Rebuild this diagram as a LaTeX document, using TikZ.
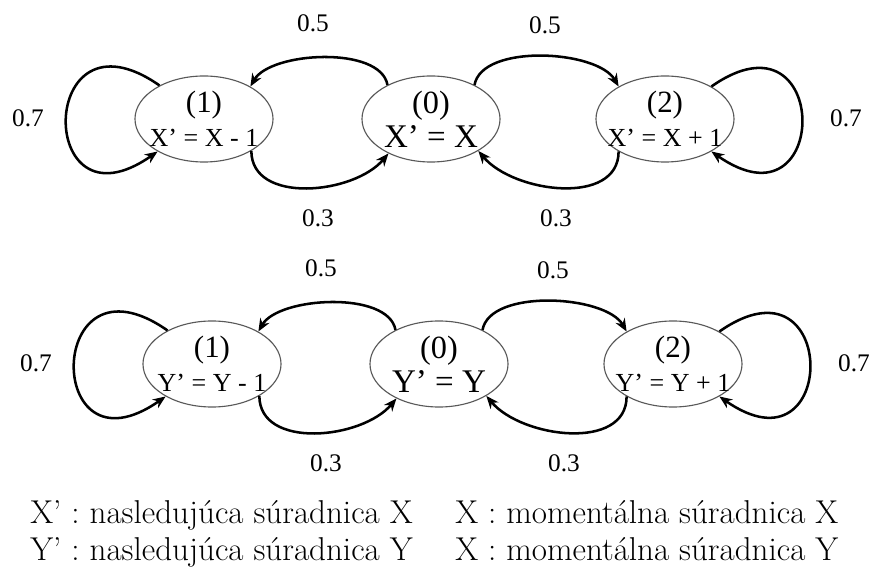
\documentclass[tikz,border=0pt]{standalone}
\usepackage{fontspec}
\newfontfamily\tms{Liberation Serif}[Ligatures=TeX]
\usetikzlibrary{arrows.meta,shapes.geometric}
\tikzset{
  st/.style={ellipse, draw=black!65, line width=0.8pt, minimum width=3.45cm, minimum height=2.15cm, inner sep=0pt},
  stt/.style={align=center, inner sep=0pt, font=\tms\fontsize{18.5}{24}\selectfont},
  arr/.style={-{Stealth[length=3.2mm, width=2.6mm]}, line width=1.8pt},
  lbl/.style={font=\tms\fontsize{18}{20}\selectfont, inner sep=0pt},
  leg/.style={font=\fontsize{23.5}{26}\selectfont, inner sep=0pt, anchor=base west},
}

\begin{document}
\begin{tikzpicture}[x=0.025cm, y=0.025cm]
  \useasboundingbox (0,0) rectangle (871,-570);
  % one row for X, one for Y
  \foreach \ax/\sx/\sy in {X/0/0, Y/8/-245} {
    \begin{scope}[shift={(\sx,\sy)}]
      \node[st, label={[stt]center:{{\fontsize{22}{24}\selectfont(1)}\\\ax' = \ax{} - 1}}] (s1\ax) at (204,-119) {};
      \node[st, label={[stt]center:{{\fontsize{23}{24}\selectfont(0)}\\{\fontsize{23.5}{24}\selectfont\ax' = \ax}}}] (s0\ax) at (431,-119) {};
      \node[st, label={[stt]center:{{\fontsize{22}{24}\selectfont(2)}\\\ax' = \ax{} + 1}}] (s2\ax) at (665,-119) {};
      \draw[arr] (s0\ax.142) to[out=100, in=60, looseness=0.75] (s1\ax.35);
      \draw[arr] (s0\ax.38) to[out=80, in=120, looseness=0.75] (s2\ax.145);
      \draw[arr] (s1\ax.-34) to[out=-90, in=-130] (s0\ax.-141);
      \draw[arr] (s2\ax.-145) to[out=-90, in=-50] (s0\ax.-34);
      \draw[arr] (s1\ax.143) to[out=145, in=215, looseness=5.8] (s1\ax.-145);
      \draw[arr] (s2\ax.35) to[out=35, in=-35, looseness=5.8] (s2\ax.-35);
      \node[lbl] (p01\ax) at (313,-23) {0.5};
      \node[lbl] (p02\ax) at (545,-25) {0.5};
      \node[lbl] (p10\ax) at (318,-218) {0.3};
      \node[lbl] (p20\ax) at (556,-218) {0.3};
      \node[lbl] (p11\ax) at (28,-118) {0.7};
      \node[lbl] (p22\ax) at (846,-118) {0.7};
    \end{scope}
  }
  % legend
  \node[leg] (legxa) at (30,-524) {X' : nasledujúca súradnica X};
  \node[leg] (legxb) at (455,-524) {X : momentálna súradnica X};
  \node[leg] (legya) at (30,-561) {Y' : nasledujúca súradnica Y};
  \node[leg] (legyb) at (455,-561) {X : momentálna súradnica Y};
\end{tikzpicture}
\end{document}
